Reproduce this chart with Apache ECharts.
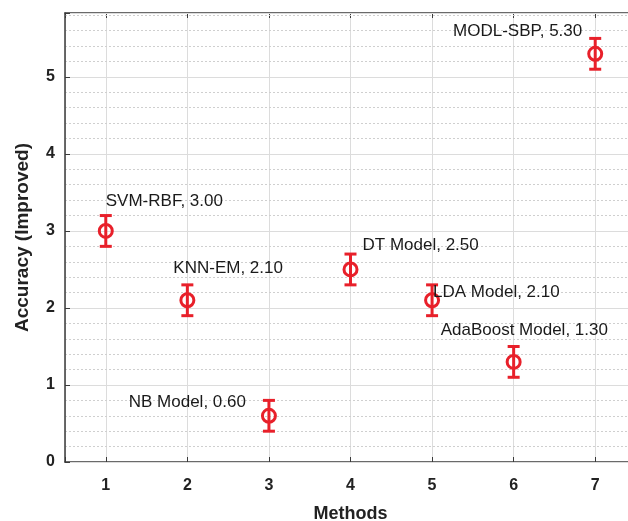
<!DOCTYPE html>
<html>
<head>
<meta charset="utf-8">
<script src="https://cdn.jsdelivr.net/npm/echarts@6/dist/echarts.min.js"></script>
<style>
  html, body { margin: 0; padding: 0; background: #fff; }
  #chart { width: 628px; height: 521px; }
</style>
</head>
<body>
<div id="chart"></div>
<script>
// data
const methods = [1, 2, 3, 4, 5, 6, 7];
const names = ['SVM-RBF', 'KNN-EM', 'NB Model', 'DT Model', 'LDA Model', 'AdaBoost Model', 'MODL-SBP'];
const accuracy = [3.0, 2.1, 0.6, 2.5, 2.1, 1.3, 5.3];
const errors = [0.2, 0.2, 0.2, 0.2, 0.2, 0.2, 0.2];

// where each text label sits relative to its point: [dx, dy, align]
const labelPlace = [
  [0, -30, 'left'],
  [-14, -32, 'left'],
  [-23, -13, 'right'],
  [12, -24, 'left'],
  [1, -8, 'left'],
  [-73, -32, 'left'],
  [-13, -23, 'right']
];

const red = '#e8202a';
const axisColor = '#3a3a3a';

const chart = echarts.init(document.getElementById('chart'));

const points = methods.map(function (m, i) {
  return {
    value: [m, accuracy[i]],
    name: names[i],
    label: {
      offset: [labelPlace[i][0], labelPlace[i][1]],
      align: labelPlace[i][2]
    }
  };
});

const bars = methods.map(function (m, i) {
  return [m, accuracy[i] - errors[i], accuracy[i] + errors[i]];
});

const intOnly = function (v) {
  return Math.abs(v - Math.round(v)) < 1e-6 ? String(Math.round(v)) : '';
};

const option = {
  animation: false,
  grid: { left: 65, top: 13, right: -8, bottom: 59, outerBoundsMode: 'none', containLabel: false },
  xAxis: [{
    type: 'value',
    min: 0.5,
    max: 7.5,
    splitNumber: 7,
    name: 'Methods',
    nameLocation: 'middle',
    nameGap: 43,
    nameTextStyle: { fontFamily: 'Liberation Sans', fontWeight: 'bold', fontSize: 18, color: '#222' },
    axisLine: { show: true, onZero: false, lineStyle: { color: axisColor, width: 1.5 } },
    axisTick: { inside: true, length: 5, lineStyle: { color: axisColor } },
    axisLabel: {
      formatter: intOnly, margin: 16,
      fontFamily: 'Liberation Sans', fontWeight: 'bold', fontSize: 16, color: '#222'
    },
    splitLine: { show: true, lineStyle: { color: '#dcdcdc', width: 1 } }
  }, {
    type: 'value',
    position: 'top',
    min: 0.5,
    max: 7.5,
    splitNumber: 7,
    axisLine: { show: true, onZero: false, lineStyle: { color: axisColor, width: 1.5 } },
    axisTick: { inside: true, length: 5, lineStyle: { color: axisColor } },
    axisLabel: { show: false },
    splitLine: { show: false }
  }],
  yAxis: [{
    type: 'value',
    min: 0,
    max: 5.83,
    interval: 1,
    name: 'Accuracy (Improved)',
    nameLocation: 'middle',
    nameGap: 33,
    nameTextStyle: { fontFamily: 'Liberation Sans', fontWeight: 'bold', fontSize: 19, color: '#222' },
    axisLine: { show: true, onZero: false, lineStyle: { color: axisColor, width: 1.5 } },
    axisTick: { inside: true, length: 5, lineStyle: { color: axisColor } },
    axisLabel: {
      formatter: intOnly, margin: 10,
      fontFamily: 'Liberation Sans', fontWeight: 'bold', fontSize: 16, color: '#222'
    },
    splitLine: { show: true, lineStyle: { color: '#dcdcdc', width: 1 } },
    z: 3
  }, {
    type: 'value',
    min: 0,
    max: 5.83,
    interval: 0.2,
    axisLine: { show: false },
    axisTick: { show: false },
    axisLabel: { show: false },
    splitLine: { show: true, lineStyle: { color: '#cfcfcf', width: 1, type: [2, 2] } },
    z: 1
  }],
  series: [{
    type: 'custom',
    xAxisIndex: 0,
    yAxisIndex: 0,
    data: bars,
    z: 5,
    renderItem: function (params, api) {
      const x = api.value(0);
      const lo = api.coord([x, api.value(1)]);
      const hi = api.coord([x, api.value(2)]);
      const half = 6;
      const style = { stroke: red, lineWidth: 3 };
      return {
        type: 'group',
        children: [
          { type: 'line', shape: { x1: hi[0], y1: hi[1], x2: lo[0], y2: lo[1] }, style: style },
          { type: 'line', shape: { x1: hi[0] - half, y1: hi[1], x2: hi[0] + half, y2: hi[1] }, style: style },
          { type: 'line', shape: { x1: lo[0] - half, y1: lo[1], x2: lo[0] + half, y2: lo[1] }, style: style }
        ]
      };
    }
  }, {
    type: 'scatter',
    xAxisIndex: 0,
    yAxisIndex: 0,
    data: points,
    symbol: 'circle',
    symbolSize: 13,
    z: 6,
    itemStyle: { color: 'rgba(0,0,0,0)', borderColor: red, borderWidth: 3, opacity: 1 },
    label: {
      show: true,
      position: 'inside',
      verticalAlign: 'middle',
      fontFamily: 'Liberation Sans',
      fontSize: 17,
      color: '#1a1a1a',
      formatter: function (p) { return p.name + ', ' + p.value[1].toFixed(2); }
    },
    emphasis: { disabled: true }
  }]
};

chart.setOption(option);
</script>
</body>
</html>
